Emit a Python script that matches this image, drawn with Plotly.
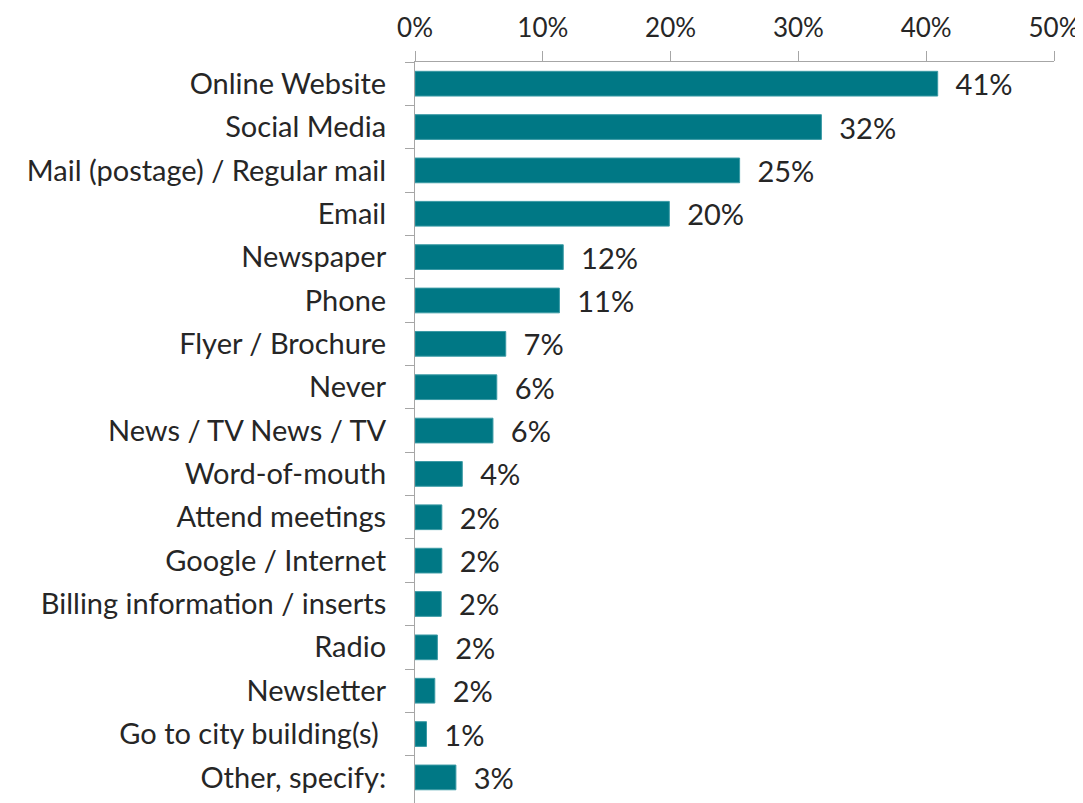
import plotly.graph_objects as go

categories = [
    "Online Website", "Social Media", "Mail (postage) / Regular mail", "Email",
    "Newspaper", "Phone", "Flyer / Brochure", "Never", "News / TV News / TV",
    "Word-of-mouth", "Attend meetings", "Google / Internet",
    "Billing information / inserts", "Radio", "Newsletter",
    "Go to city building(s) ", "Other, specify:",
]
values = [40.9, 31.8, 25.4, 19.9, 11.6, 11.3, 7.1, 6.4, 6.1, 3.7,
          2.1, 2.1, 2.05, 1.75, 1.55, 0.9, 3.2]
x_ticks = [0, 10, 20, 30, 40, 50]
x_tick_labels = ["0%", "10%", "20%", "30%", "40%", "50%"]

FONT = "Lato, 'Open Sans', sans-serif"
TXT = "#262626"
AX = "#a6a6a6"

fig = go.Figure(go.Bar(
    y=categories, x=values, orientation="h",
    marker=dict(color="#007885", line=dict(color="#3a9aa5", width=1)),
    text=[f"\u00a0\u00a0{round(v + 1e-9):.0f}%" for v in values],
    textposition="outside", cliponaxis=False, constraintext="none",
    textfont=dict(family=FONT, size=29, color=TXT),
    width=0.57,
))

fig.update_layout(
    width=1075, height=795,
    margin=dict(l=407, r=29, t=54, b=0, autoexpand=False),
    plot_bgcolor="white", paper_bgcolor="white",
    showlegend=False,
    font=dict(family=FONT, size=27, color=TXT),
    xaxis=dict(
        side="top", range=[0, 50], tickvals=x_ticks, ticktext=x_tick_labels,
        automargin=False,
        showgrid=False, zeroline=False, showline=True, linecolor=AX, linewidth=1,
        ticks="outside", ticklen=10, tickcolor=AX, tickwidth=1,
        tickfont=dict(family=FONT, size=26, color=TXT), ticklabelstandoff=4,
    ),
    yaxis=dict(
        type="category", categoryorder="array", categoryarray=categories,
        range=[16.5 + 0.09, -0.5], automargin=False,
        showgrid=False, zeroline=False, showline=True, linecolor=AX, linewidth=1,
        ticks="outside", ticklen=9, tickcolor=AX, tickson="boundaries",
        tickfont=dict(family=FONT, size=29, color=TXT), ticklabelstandoff=22,
    ),
)

fig.write_html("out.html")
